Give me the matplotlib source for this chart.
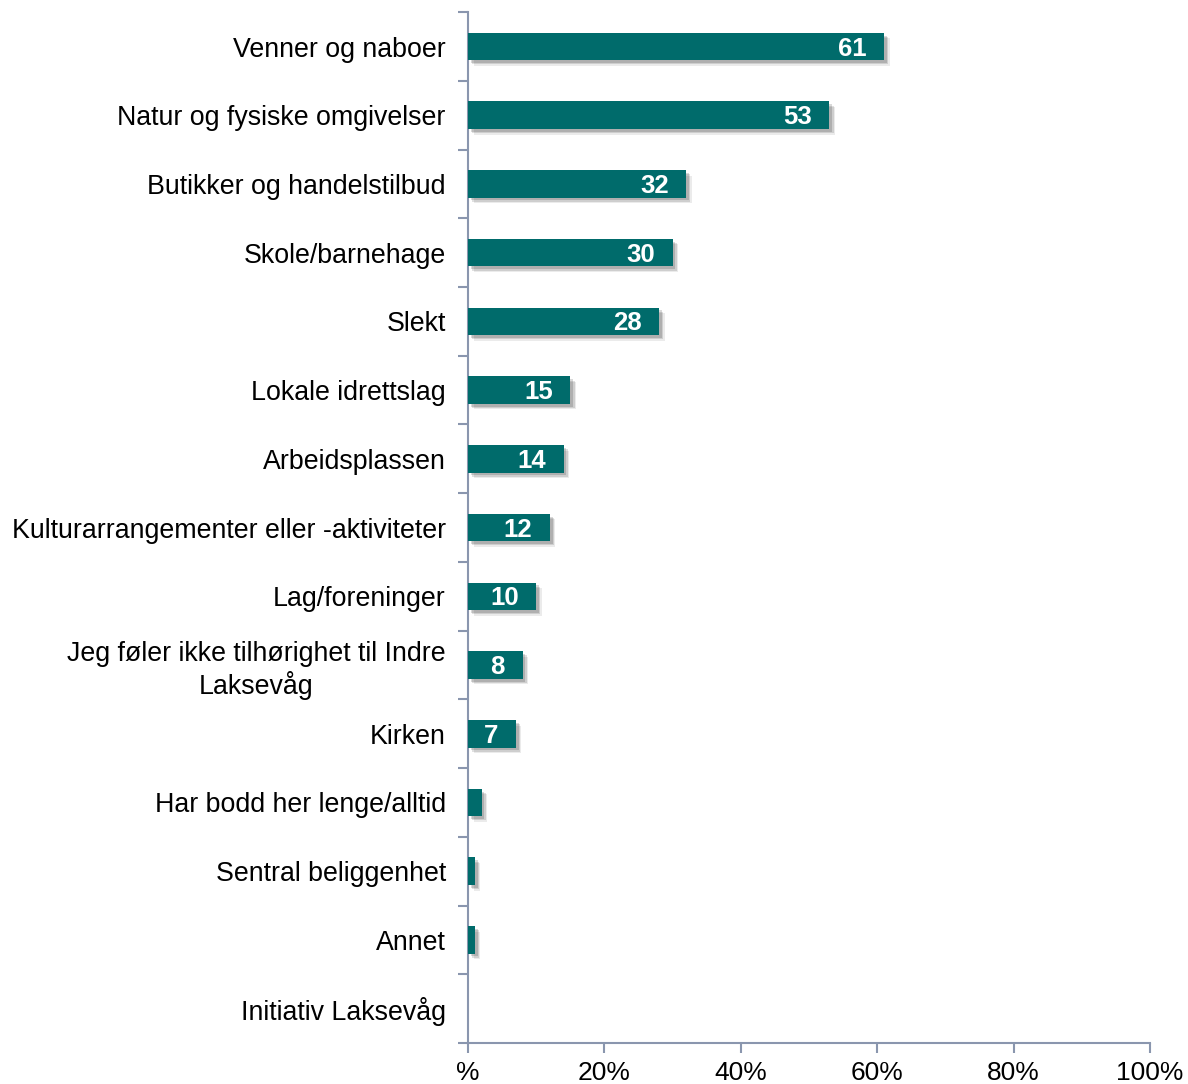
import numpy as np
import matplotlib.pyplot as plt
from matplotlib import patheffects as pe

# ── data ─────────────────────────────────────────────────────────────────────
categories = [
    "Venner og naboer",
    "Natur og fysiske omgivelser",
    "Butikker og handelstilbud",
    "Skole/barnehage",
    "Slekt",
    "Lokale idrettslag",
    "Arbeidsplassen",
    "Kulturarrangementer eller -aktiviteter",
    "Lag/foreninger",
    "Jeg føler ikke tilhørighet til Indre\nLaksevåg",
    "Kirken",
    "Har bodd her lenge/alltid",
    "Sentral beliggenhet",
    "Annet",
    "Initiativ Laksevåg",
]
values = [61, 53, 32, 30, 28, 15, 14, 12, 10, 8, 7, 2, 1, 1, 0]
show_label = [True] * 11 + [False] * 4
xticks = [0, 20, 40, 60, 80, 100]
xticklabels = ["%", "20%", "40%", "60%", "80%", "100%"]

bar_color = "#006b6b"
axis_color = "#8a96ae"

plt.rcParams['font.family'] = ['Liberation Sans', 'DejaVu Sans']

fig = plt.figure(figsize=(11.88, 10.84), dpi=100)
ax = fig.add_axes([0.394, 0.0378, 0.574, 0.951])

y = np.arange(len(categories))
bars = ax.barh(y, values, height=0.4, color=bar_color, zorder=3)
# soft drop shadow, a few stacked layers
for b in bars:
    b.set_path_effects([
        pe.SimplePatchShadow(offset=(4, -4), shadow_rgbFace='black', alpha=0.08),
        pe.SimplePatchShadow(offset=(3, -3), shadow_rgbFace='black', alpha=0.12),
        pe.SimplePatchShadow(offset=(2, -2), shadow_rgbFace='black', alpha=0.15),
        pe.Normal()])

for yi, v, lab in zip(y, values, show_label):
    if lab:
        ax.text(v - 2.6, yi + 0.03, str(v), ha='right', va='center', color='white',
                fontsize=18.5, fontweight='bold', zorder=4)

ax.set_xlim(0, 100)
ax.set_ylim(len(categories) - 0.5, -0.5)

ax.set_yticks(y)
ax.set_yticklabels(categories, fontsize=19.3, ha='right', multialignment='center',
                   linespacing=1.2)
ax.set_yticks(np.arange(-0.5, len(categories) + 0.5, 1), minor=True)
ax.tick_params(axis='y', which='major', length=0, pad=16)
ax.tick_params(axis='y', which='minor', length=7, color=axis_color, width=1.5)

ax.set_xticks(xticks)
ax.set_xticklabels(xticklabels, fontsize=19)
ax.tick_params(axis='x', length=7, color=axis_color, width=1.5, pad=6)

for s in ['top', 'right']:
    ax.spines[s].set_visible(False)
for s in ['left', 'bottom']:
    ax.spines[s].set_color(axis_color)
    ax.spines[s].set_linewidth(1.5)

fig.savefig("out.png", dpi=100)
